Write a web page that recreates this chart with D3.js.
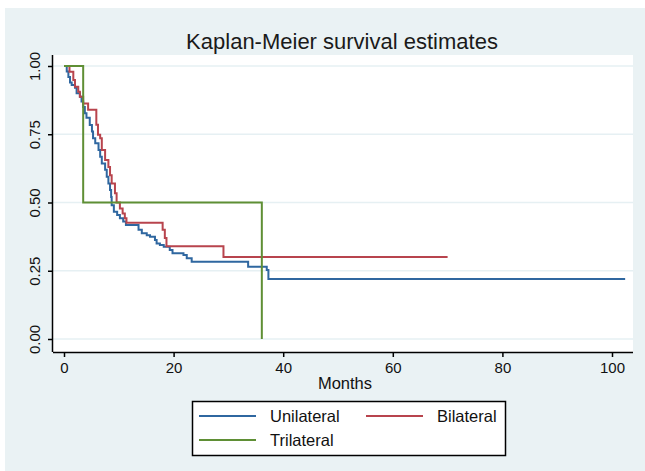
<!DOCTYPE html>
<html>
<head>
<meta charset="utf-8">
<script src="https://cdn.jsdelivr.net/npm/d3@7"></script>
<style>
  body { margin: 0; background: #fff; }
  svg { display: block; font-family: "Liberation Sans", Arial, sans-serif; }
</style>
</head>
<body>
<script>
var w = 645;
var h = 471;

// step points: time (months) and survival after that time
var uniTime = [0, 0.5, 0.8, 1.1, 1.4, 2.0, 2.3, 2.9, 3.2, 3.5, 3.8, 4.1, 4.7, 5.1, 5.3, 5.7, 6.3, 6.6, 6.9, 7.5, 7.8, 8.1, 8.4, 8.6, 8.7, 9.1, 9.7, 10.2, 10.8, 11.3, 13.6, 14.2, 15.1, 15.7, 16.6, 16.9, 17.5, 18.2, 19.3, 19.8, 21.8, 22.4, 23.3, 33.6, 37.0, 37.3, 102.4];
var uniSurv = [1, 0.98, 0.96, 0.94, 0.93, 0.92, 0.90, 0.887, 0.87, 0.85, 0.827, 0.81, 0.784, 0.76, 0.735, 0.717, 0.692, 0.668, 0.643, 0.62, 0.594, 0.57, 0.546, 0.52, 0.49, 0.466, 0.454, 0.442, 0.43, 0.418, 0.40, 0.387, 0.38, 0.375, 0.363, 0.35, 0.344, 0.338, 0.326, 0.314, 0.308, 0.296, 0.283, 0.265, 0.253, 0.22, 0.22];

var biTime = [0, 1.0, 1.7, 2.0, 2.6, 2.9, 3.5, 4.4, 5.9, 6.2, 6.6, 6.9, 7.5, 8.1, 8.4, 8.7, 9.3, 9.6, 10.2, 10.7, 11.1, 11.4, 18.0, 18.4, 18.7, 29.1, 70.0];
var biSurv = [1, 0.979, 0.949, 0.924, 0.906, 0.887, 0.863, 0.84, 0.785, 0.748, 0.735, 0.692, 0.656, 0.63, 0.60, 0.57, 0.534, 0.50, 0.478, 0.46, 0.442, 0.426, 0.40, 0.37, 0.34, 0.30, 0.30];

var triTime = [0, 3.5, 36.1];
var triSurv = [1, 0.5, 0];

var seriesNames = ["Unilateral", "Bilateral", "Trilateral"];
var seriesColors = ["#2f67a0", "#b8444d", "#5f8f35"];
var xTicks = [0, 20, 40, 60, 80, 100];
var yTicks = [0, 0.25, 0.5, 0.75, 1];

var svg = d3.select("body").append("svg").attr("width", w).attr("height", h);

// background
svg.append("rect").attr("x", 5).attr("y", 8).attr("width", w - 5).attr("height", h - 8).attr("fill", "#eaf2f4");

var plot = { left: 53, right: 633, top: 55, bottom: 352 };
svg.append("rect")
  .attr("x", plot.left).attr("y", plot.top)
  .attr("width", plot.right - plot.left).attr("height", plot.bottom - plot.top)
  .attr("fill", "#fff");

var xScale = d3.scaleLinear().domain([0, 100]).range([64, 612]);
var yScale = d3.scaleLinear().domain([0, 1]).range([339, 66]);

// grid
svg.selectAll("line.grid")
  .data(yTicks)
  .enter()
  .append("line")
  .attr("class", "grid")
  .attr("x1", plot.left).attr("x2", plot.right)
  .attr("y1", function (d) { return yScale(d); })
  .attr("y2", function (d) { return yScale(d); })
  .attr("stroke", "#e6f0f3")
  .attr("stroke-width", 1.5);

// curves
function toPoints(t, s) {
  return t.map(function (d, i) { return [d, s[i]]; });
}
var line = d3.line()
  .curve(d3.curveStepAfter)
  .x(function (d) { return xScale(d[0]); })
  .y(function (d) { return yScale(d[1]); });

var series = [toPoints(uniTime, uniSurv), toPoints(biTime, biSurv), toPoints(triTime, triSurv)];
svg.selectAll("path.km")
  .data(series)
  .enter()
  .append("path")
  .attr("class", "km")
  .attr("d", line)
  .attr("fill", "none")
  .attr("stroke", function (d, i) { return seriesColors[i]; })
  .attr("stroke-width", 2);

// axes
var xAxis = d3.axisBottom(xScale).tickValues(xTicks).tickSize(5).tickPadding(5);
var gx = svg.append("g")
  .attr("transform", "translate(0," + plot.bottom + ")")
  .call(xAxis);
gx.select(".domain").attr("d", "M" + plot.left + ",0.5H" + plot.right).attr("stroke", "#000").attr("stroke-width", 1.5);
gx.selectAll("line").attr("stroke-width", 1.5);
gx.selectAll("text").attr("font-size", "15px").attr("fill", "#111").attr("font-family", "Liberation Sans, Arial, sans-serif");

var yAxis = d3.axisLeft(yScale).tickValues(yTicks).tickSize(5).tickFormat(d3.format(".2f"));
var gy = svg.append("g")
  .attr("transform", "translate(" + plot.left + ",0)")
  .call(yAxis);
gy.select(".domain").attr("d", "M-0.5," + plot.top + "V" + plot.bottom).attr("stroke", "#000").attr("stroke-width", 1.5);
gy.selectAll("line").attr("stroke-width", 1.5);
gy.selectAll("text")
  .attr("font-size", "15px")
  .attr("fill", "#111")
  .attr("font-family", "Liberation Sans, Arial, sans-serif")
  .attr("text-anchor", "middle")
  .attr("dy", 0)
  .attr("x", 0).attr("y", 0)
  .attr("transform", "translate(-13,0) rotate(-90)");

// titles
svg.append("text")
  .attr("x", 342).attr("y", 49)
  .attr("text-anchor", "middle")
  .attr("font-size", "22px")
  .attr("fill", "#1a1a1a")
  .text("Kaplan-Meier survival estimates");

svg.append("text")
  .attr("x", 345).attr("y", 389)
  .attr("text-anchor", "middle")
  .attr("font-size", "16.5px")
  .attr("fill", "#111")
  .text("Months");

// legend
var lg = svg.append("g");
lg.append("rect")
  .attr("x", 192.5).attr("y", 401.5).attr("width", 313).attr("height", 54)
  .attr("fill", "#fff").attr("stroke", "#000").attr("stroke-width", 1.5);
var legPos = [[199, 416], [366, 416], [199, 440]];
seriesNames.forEach(function (name, i) {
  lg.append("line")
    .attr("x1", legPos[i][0]).attr("x2", legPos[i][0] + 57)
    .attr("y1", legPos[i][1]).attr("y2", legPos[i][1])
    .attr("stroke", seriesColors[i]).attr("stroke-width", 2);
  lg.append("text")
    .attr("x", legPos[i][0] + 71).attr("y", legPos[i][1] + 6)
    .attr("font-size", "16.5px")
    .attr("fill", "#111")
    .text(name);
});
</script>
</body>
</html>
